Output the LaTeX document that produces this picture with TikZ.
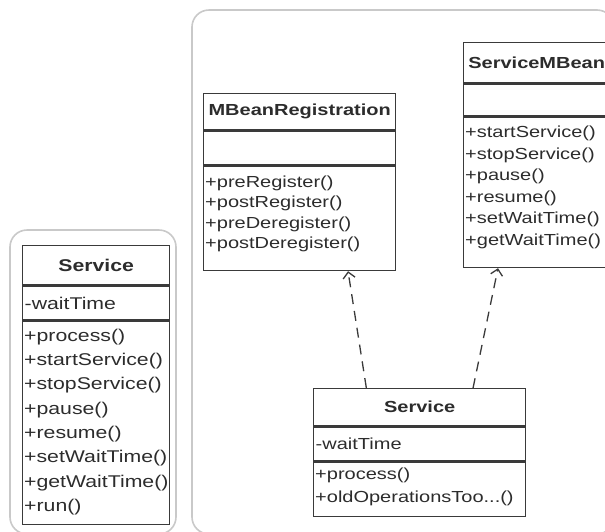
\documentclass[tikz,border=0pt]{standalone}
\usepackage{fontspec}
\setmainfont{Liberation Sans}[FakeStretch=1.25]
\usetikzlibrary{arrows.meta,calc}

\definecolor{umlline}{HTML}{3A3A3A}
\definecolor{umltext}{HTML}{2C2C2C}
\definecolor{panelline}{HTML}{C9C9C9}

\tikzset{
  panel/.style={draw=panelline, line width=1.6pt, rounded corners=17pt},
  umlpart/.style={draw=umlline, line width=1.4pt, anchor=north west,
    inner xsep=2pt, inner ysep=0pt, text=umltext, minimum width=#1},
  classname/.style={umlpart=#1, execute at begin node=\bfseries},
  classbody/.style={umlpart=#1, align=left, text width=#1-4pt},
  oplist/.style={anchor=north west, align=left, inner sep=0pt, text=umltext},
  realize/.style={draw=umlline, line width=1.3pt, dash pattern=on 10pt off 7pt,
    -{Straight Barb[length=6pt,width=12pt]}}
}

\begin{document}
\begin{tikzpicture}[x=1pt,y=-1pt]
  \useasboundingbox (0,0) rectangle (605,531);
  \clip (0,0) rectangle (605,531);

  % the two frames
  \draw[panel] (10,230) rectangle (176,534);
  \draw[panel] (192,10) rectangle (614,534);

  % plain class on the left
  \begin{scope}[font=\fontsize{17}{24.3}\selectfont]
    \node[classname=147pt, minimum height=39pt] (old-name) at (22,245) {Service};
    \node[classbody=147pt, minimum height=34pt] (old-attr) at (old-name.south west) {-waitTime};
    \node[classbody=147pt, minimum height=203pt] (old-ops) at (old-attr.south west) {};
    \node[oplist] (old-list) at ($(old-ops.north west)+(2,8)$)
      {+process()\\+startService()\\+stopService()\\+pause()\\+resume()\\+setWaitTime()\\+getWaitTime()\\+run()};
  \end{scope}

  % interfaces
  \begin{scope}[font=\fontsize{16}{20.3}\selectfont]
    \node[classname=192pt, minimum height=36pt] (reg-name) at (203,93) {MBeanRegistration};
    \node[classbody=192pt, minimum height=34pt] (reg-attr) at (reg-name.south west) {};
    \node[classbody=192pt, minimum height=104pt] (reg-ops) at (reg-attr.south west) {};
    \node[oplist] (reg-list) at ($(reg-ops.north west)+(2,10)$)
      {+preRegister()\\+postRegister()\\+preDeregister()\\+postDeregister()};
  \end{scope}
  \begin{scope}[font=\fontsize{16}{21.6}\selectfont]
    \node[classname=146pt, minimum height=40pt] (mbean-name) at (463,42) {ServiceMBean};
    \node[classbody=146pt, minimum height=32pt] (mbean-attr) at (mbean-name.south west) {};
    \node[classbody=146pt, minimum height=150pt] (mbean-ops) at (mbean-attr.south west) {};
    \node[oplist] (mbean-list) at ($(mbean-ops.north west)+(2,9)$)
      {+startService()\\+stopService()\\+pause()\\+resume()\\+setWaitTime()\\+getWaitTime()};
  \end{scope}

  % managed class
  \begin{scope}[font=\fontsize{16}{23}\selectfont]
    \node[classname=212pt, minimum height=37pt] (svc-name) at (313,388) {Service};
    \node[classbody=212pt, minimum height=34pt] (svc-attr) at (svc-name.south west) {-waitTime};
    \node[classbody=212pt, minimum height=54pt] (svc-ops) at (svc-attr.south west) {};
    \node[oplist] (svc-list) at ($(svc-ops.north west)+(2,6)$)
      {+process()\\+oldOperationsToo...()};
  \end{scope}

  % realizations
  \draw[realize] ($(svc-name.north west)!0.25!(svc-name.north east)$)
    -- ($(reg-ops.south west)!0.75!(reg-ops.south east)$);
  \draw[realize] ($(svc-name.north west)!0.75!(svc-name.north east)$)
    -- ($(mbean-ops.south west)+(35,0)$);
\end{tikzpicture}
\end{document}
